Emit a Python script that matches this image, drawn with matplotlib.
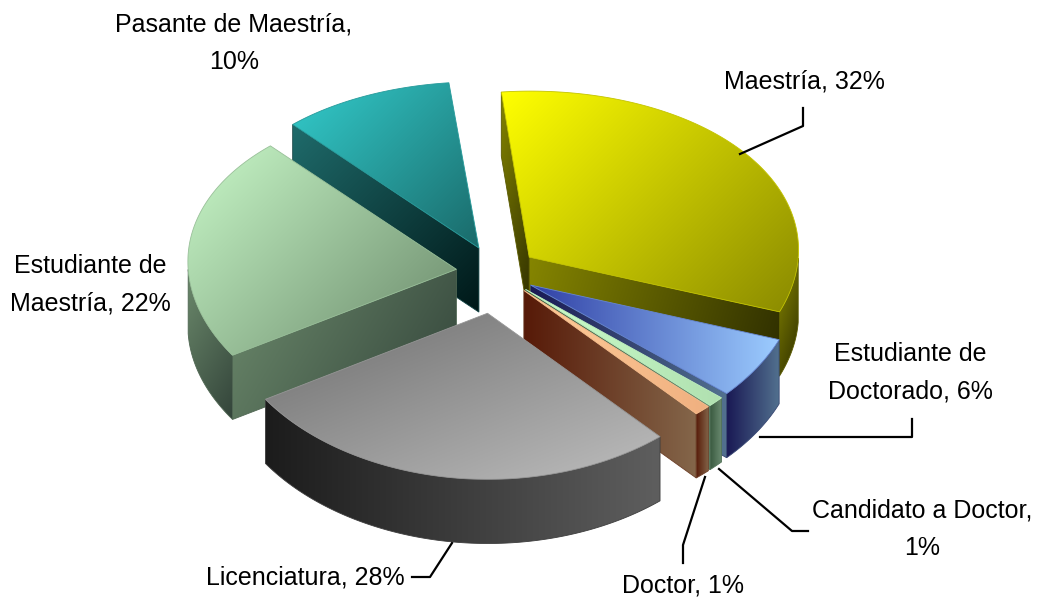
import numpy as np
import matplotlib.pyplot as plt
from matplotlib.patches import Polygon
from matplotlib.colors import to_rgb

# datos del grafico (sentido horario desde las 12)
categorias = ['Maestría', 'Estudiante de Doctorado', 'Candidato a Doctor', 'Doctor',
              'Licenciatura', 'Estudiante de Maestría', 'Pasante de Maestría']
porcentajes = [32, 6, 1, 1, 28, 22, 10]
etiquetas = ['Maestría, 32%', 'Estudiante de\nDoctorado, 6%', 'Candidato a Doctor,\n1%',
             'Doctor, 1%', 'Licenciatura, 28%', 'Estudiante de\nMaestría, 22%',
             'Pasante de Maestría,\n10%']

# estilo: separacion de cada rebanada y colores (tapa c1, c2, direccion / pared c1, c2, direccion)
separacion = [0.153, 0.145, 0.145, 0.145, 0.245, 0.153, 0.165]
colores = [
    (('#FFFF00', '#8A8A00', (1, 1)), ('#858500', '#2E2E00', (1, 0.3))),
    (('#3040A5', '#9CCCFF', (1, 0)), ('#1A1A55', '#52718F', (1, 0))),
    (('#CCFFCC', '#B0E0B0', (1, 0)), ('#3A5A40', '#6A8A70', (1, 0))),
    (('#FFCC99', '#F0B080', (1, 0)), ('#571A08', '#84664A', (1, 0))),
    (('#6E6E6E', '#BDBDBD', (0.4, 1)), ('#1C1C1C', '#5E5E5E', (1, 0))),
    (('#C8F8C8', '#6A886A', (1, 1)), ('#6C8A6C', '#33443A', (1, 0.6))),
    (('#33CCCC', '#1A6A6A', (1, 1)), ('#1F6B6B', '#001818', (1, 1))),
]

# posiciones de etiquetas (centro) y lineas guia
pos_etiq = [(804, 82), (910, 373), (922, 529), (683, 585), (305, 577), (90, 285), (234, 43)]
guias = [
    [(740, 154), (803, 126), (803, 108)],
    [(760, 437), (912, 437), (912, 419)],
    [(719, 469), (792, 531), (808, 531)],
    [(705, 477), (683, 545), (683, 563)],
    None,
    None,
    None,
]
guia_lic = [(412, 577), (430, 577), (452, 543)]

# vista: ortografica, con leve ensanche horizontal hacia el fondo
elev = np.radians(38.3)
k_prof = 0.04
alto = 0.305
escala = 268
cx, cy = 497, 273
inicio = -6.0
vista = np.array([0, -np.cos(elev), np.sin(elev)])  # hacia el observador


def proy(P):
    P = np.atleast_2d(P)
    sx = P[:, 0] * (1 + k_prof * P[:, 1])
    sy = P[:, 1] * np.sin(elev) + (P[:, 2] - alto) * np.cos(elev)
    return np.column_stack([cx + escala * sx, cy - escala * sy])


def relleno(ax, pts, c1, c2, d, z):
    pts = np.asarray(pts)
    poly = Polygon(pts, closed=True, facecolor='none', edgecolor='none', zorder=z)
    ax.add_patch(poly)
    x0, y0 = pts.min(0)
    x1, y1 = pts.max(0)
    gx, gy = np.meshgrid(np.linspace(x0, x1, 80), np.linspace(y0, y1, 80))
    d = np.array(d, float) / np.linalg.norm(d)
    s = gx * d[0] + gy * d[1]
    s = (s - s.min()) / (s.max() - s.min() + 1e-9)
    img = (1 - s)[..., None] * np.array(to_rgb(c1)) + s[..., None] * np.array(to_rgb(c2))
    im = ax.imshow(img, extent=(x0, x1, y1, y0), origin='upper', zorder=z,
                   interpolation='bilinear', aspect='auto')
    im.set_clip_path(poly)
    # borde fino del color medio para tapar huecos
    ax.add_patch(Polygon(pts, closed=True, facecolor='none',
                         edgecolor=tuple((np.array(to_rgb(c1)) + np.array(to_rgb(c2))) / 2),
                         lw=0.6, zorder=z))


def punto(o, t, z):
    return np.array([o[0] + np.sin(t), o[1] + np.cos(t), z])


fig = plt.figure(figsize=(10.42, 6.04), dpi=100)
ax = fig.add_axes([0, 0, 1, 1])
ax.set_xlim(0, 1042)
ax.set_ylim(604, 0)
ax.axis('off')

total = sum(porcentajes)
bordes = np.radians(inicio + 360 * np.concatenate([[0], np.cumsum(porcentajes)]) / total)

rebanadas = []
for i in range(len(porcentajes)):
    a0, a1 = bordes[i], bordes[i + 1]
    m = (a0 + a1) / 2
    o = separacion[i] * np.array([np.sin(m), np.cos(m)])
    prof = o[1] + 0.6 * np.cos(m)
    rebanadas.append((prof, i, a0, a1, o))

z = 2
for prof, i, a0, a1, o in sorted(rebanadas, key=lambda r: -r[0]):
    (tc1, tc2, td), (wc1, wc2, wd) = colores[i]
    ts = np.linspace(a0, a1, max(4, int(np.degrees(a1 - a0) * 1.5)))
    caras = []
    # paredes radiales
    for a, sgn in ((a0, -1), (a1, 1)):
        n = np.array([np.sin(a + sgn * np.pi / 2), np.cos(a + sgn * np.pi / 2), 0])
        if n @ vista > 0:
            quad = [[o[0], o[1], alto], punto(o, a, alto), punto(o, a, 0), [o[0], o[1], 0]]
            caras.append(proy(np.array(quad)))
    # pared exterior visible (mira hacia el frente)
    vis = np.cos(ts) < 0
    k = 0
    while k < len(ts):
        if vis[k]:
            j = k
            while j + 1 < len(ts) and vis[j + 1]:
                j += 1
            if j > k:
                seg = ts[k:j + 1]
                arr = [punto(o, t, alto) for t in seg]
                aba = [punto(o, t, 0) for t in seg[::-1]]
                caras.append(proy(np.array(arr + aba)))
            k = j + 1
        else:
            k += 1
    for c in caras:
        relleno(ax, c, wc1, wc2, wd, z)
        z += 1
    tapa = [[o[0], o[1], alto]] + [punto(o, t, alto) for t in ts]
    relleno(ax, proy(np.array(tapa)), tc1, tc2, td, z)
    z += 1

# etiquetas
fuente = dict(family=['Liberation Sans', 'DejaVu Sans'], fontsize=18, color='black')
for i, txt in enumerate(etiquetas):
    ax.text(pos_etiq[i][0], pos_etiq[i][1], txt, ha='center', va='center',
            linespacing=1.7, zorder=100, **fuente)
    if guias[i]:
        g = np.array(guias[i])
        ax.plot(g[:, 0], g[:, 1], color='black', lw=1.6, zorder=100)
g = np.array(guia_lic)
ax.plot(g[:, 0], g[:, 1], color='black', lw=1.6, zorder=100)

fig.savefig('out.png', dpi=100)
